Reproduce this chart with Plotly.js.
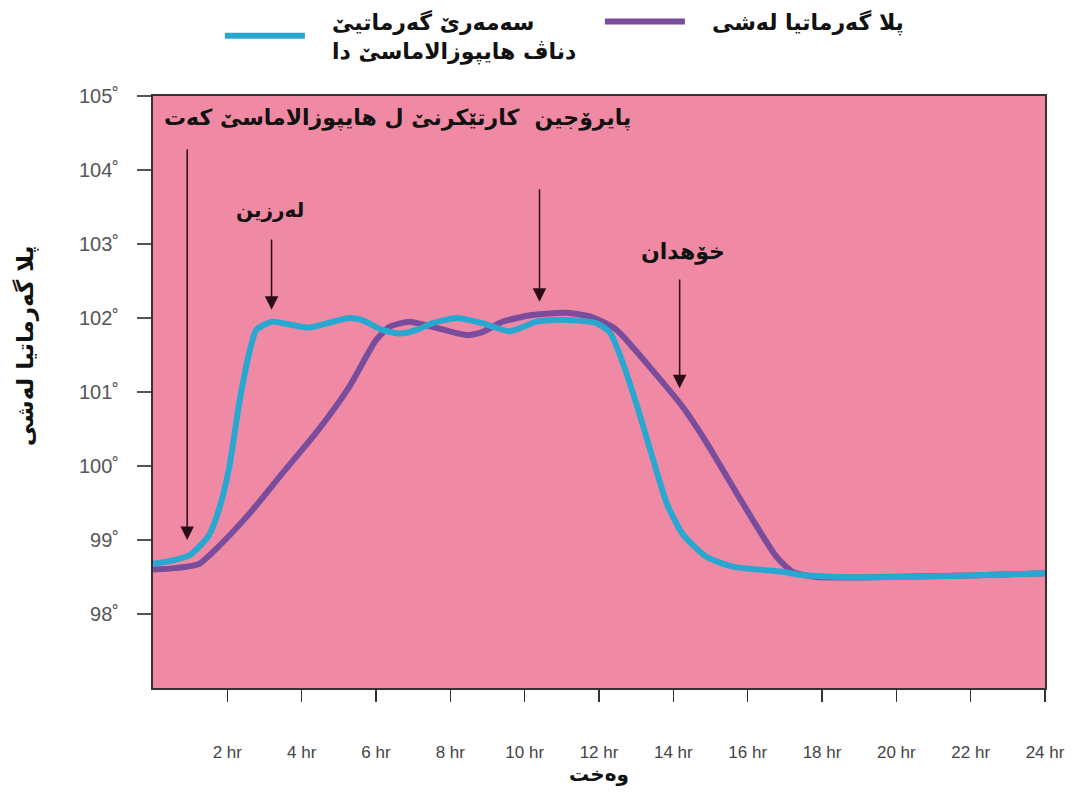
<!DOCTYPE html>
<html>
<head>
<meta charset="utf-8">
<script src="https://cdn.plot.ly/plotly-3.0.1.min.js"></script>
<style>html,body{margin:0;padding:0;background:#fff;}#chart{width:1078px;height:795px;}</style>
</head>
<body>
<div id="chart"></div>
<script>
// ---- data ----
const cyanName = '\u2003سەمەرێ گەرماتیێ<br>\u2003دناڤ هایپوزالاماسێ دا';
const purpleName = '\u2003پلا گەرماتیا لەشی';

const cyanHours = [0, 0.5, 1.0, 1.5, 1.78, 2.05, 2.32, 2.6, 2.78, 3.2, 3.6, 4.2, 4.7, 5.28, 5.63, 6.17, 6.63, 7.1, 7.52, 8.17, 8.86, 9.59, 10.32, 10.67, 11.3, 11.94, 12.3, 12.6, 13.0, 13.36, 13.82, 14.25, 14.9, 15.6, 16.94, 17.4, 18.5, 20, 22, 24];
const cyanTemp  = [98.68, 98.72, 98.8, 99.06, 99.42, 99.98, 100.85, 101.55, 101.84, 101.95, 101.92, 101.87, 101.93, 102.0, 101.97, 101.84, 101.79, 101.84, 101.93, 102.0, 101.93, 101.82, 101.95, 101.97, 101.97, 101.93, 101.8, 101.45, 100.85, 100.25, 99.5, 99.08, 98.77, 98.64, 98.57, 98.53, 98.5, 98.5, 98.52, 98.55];

const purpleHours = [0, 0.6, 1.25, 1.7, 2.6, 3.48, 4.39, 5.28, 6.0, 6.36, 6.9, 7.52, 8.43, 8.86, 9.4, 10.2, 11.12, 11.83, 12.47, 13.36, 14.25, 14.9, 15.6, 16.25, 16.78, 17.21, 17.86, 19.64, 22, 24];
const purpleTemp  = [98.6, 98.62, 98.68, 98.88, 99.36, 99.9, 100.45, 101.07, 101.7, 101.88, 101.95, 101.88, 101.77, 101.81, 101.95, 102.04, 102.07, 102.01, 101.84, 101.34, 100.8, 100.31, 99.72, 99.18, 98.77, 98.57, 98.5, 98.5, 98.52, 98.55];

const xTickVals = [2, 4, 6, 8, 10, 12, 14, 16, 18, 20, 22, 24];
const xTickText = ['2 hr', '4 hr', '6 hr', '8 hr', '10 hr', '12 hr', '14 hr', '16 hr', '18 hr', '20 hr', '22 hr', '24 hr'];
const yTickVals = [98, 99, 100, 101, 102, 103, 104, 105];
const yTickText = ['98˚', '99˚', '100˚', '101˚', '102˚', '103˚', '104˚', '105˚'];

const xTitle = 'وەخت';
const yTitle = 'پلا گەرماتیا لەشی';

// callouts
const topLabel = 'پایرۆجین  کارتێکرنێ ل هایپوزالاماسێ کەت';
const shiverLabel = 'لەرزین';
const sweatLabel = 'خۆهدان';
const arrowHours = [0.92, 10.4, 3.19, 14.17];
const arrowTails = [104.3, 103.76, 103.08, 102.54];
const arrowHeads = [99.0, 102.22, 102.11, 101.05];

// ---- chart ----
const arab = 'DejaVu Sans, Noto Sans, sans-serif';
const tickFont = 'Liberation Sans, Arial, sans-serif';

const traces = [
  {x: purpleHours, y: purpleTemp, name: purpleName, mode: 'lines',
   line: {color: '#7a4c9c', width: 6, shape: 'spline', smoothing: 0.6}},
  {x: cyanHours, y: cyanTemp, name: cyanName, mode: 'lines',
   line: {color: '#28a8d0', width: 6, shape: 'spline', smoothing: 0.6}}
];

const annotations = [];
for (let i = 0; i < arrowHours.length; i++) {
  annotations.push({
    x: arrowHours[i], y: arrowHeads[i], ax: arrowHours[i], ay: arrowTails[i],
    xref: 'x', yref: 'y', axref: 'x', ayref: 'y', text: '', showarrow: true,
    arrowhead: 2, arrowsize: 1.8, arrowwidth: 1.5, arrowcolor: '#2a0c18', standoff: 0, startstandoff: 0
  });
}
annotations.push({x: 0.25, y: 104.7, xref: 'x', yref: 'y', xanchor: 'left', yanchor: 'middle', showarrow: false,
  text: topLabel, font: {family: arab, size: 22, color: '#111', weight: 'bold'}});
annotations.push({x: 3.14, y: 103.46, xref: 'x', yref: 'y', xanchor: 'center', yanchor: 'middle', showarrow: false,
  text: shiverLabel, font: {family: arab, size: 20, color: '#111', weight: 'bold'}});
annotations.push({x: 14.25, y: 102.89, xref: 'x', yref: 'y', xanchor: 'center', yanchor: 'middle', showarrow: false,
  text: sweatLabel, font: {family: arab, size: 22, color: '#111', weight: 'bold'}});
annotations.push({x: -0.1435, y: 0.579, xref: 'paper', yref: 'paper', xanchor: 'center', yanchor: 'middle', showarrow: false,
  textangle: -90, text: yTitle, font: {family: arab, size: 23, color: '#111', weight: 'bold'}});

const layout = {
  width: 1078, height: 795,
  margin: {l: 153, r: 33, t: 96, b: 107, autoexpand: false},
  paper_bgcolor: '#ffffff',
  plot_bgcolor: '#f08aa4',
  showlegend: true,
  legend: {orientation: 'h', x: 0.075, xanchor: 'left', y: 1.101, yanchor: 'middle',
    traceorder: 'reversed', itemwidth: 80, entrywidth: 285, entrywidthmode: 'pixels',
    font: {family: arab, size: 22, color: '#111', weight: 'bold'}, bgcolor: 'rgba(0,0,0,0)'},
  xaxis: {range: [0, 24], tickvals: xTickVals, ticktext: xTickText,
    showgrid: false, zeroline: false, showline: true, mirror: true, linecolor: '#333', linewidth: 2,
    ticks: 'outside', ticklen: 12, tickcolor: '#333', tickwidth: 1.5, ticklabelstandoff: 36,
    tickfont: {family: tickFont, size: 17, color: '#444'},
    title: {text: xTitle, font: {family: arab, size: 20, color: '#111', weight: 'bold'}, standoff: 4}},
  yaxis: {range: [97, 105], tickvals: yTickVals, ticktext: yTickText,
    showgrid: false, zeroline: false, showline: true, mirror: true, linecolor: '#333', linewidth: 2,
    ticks: 'outside', ticklen: 14, tickcolor: '#555', tickwidth: 1.2, ticklabelstandoff: 14,
    tickfont: {family: tickFont, size: 20, color: '#555'}},
  annotations: annotations
};

Plotly.newPlot('chart', traces, layout, {displayModeBar: false, staticPlot: true});
</script>
</body>
</html>
